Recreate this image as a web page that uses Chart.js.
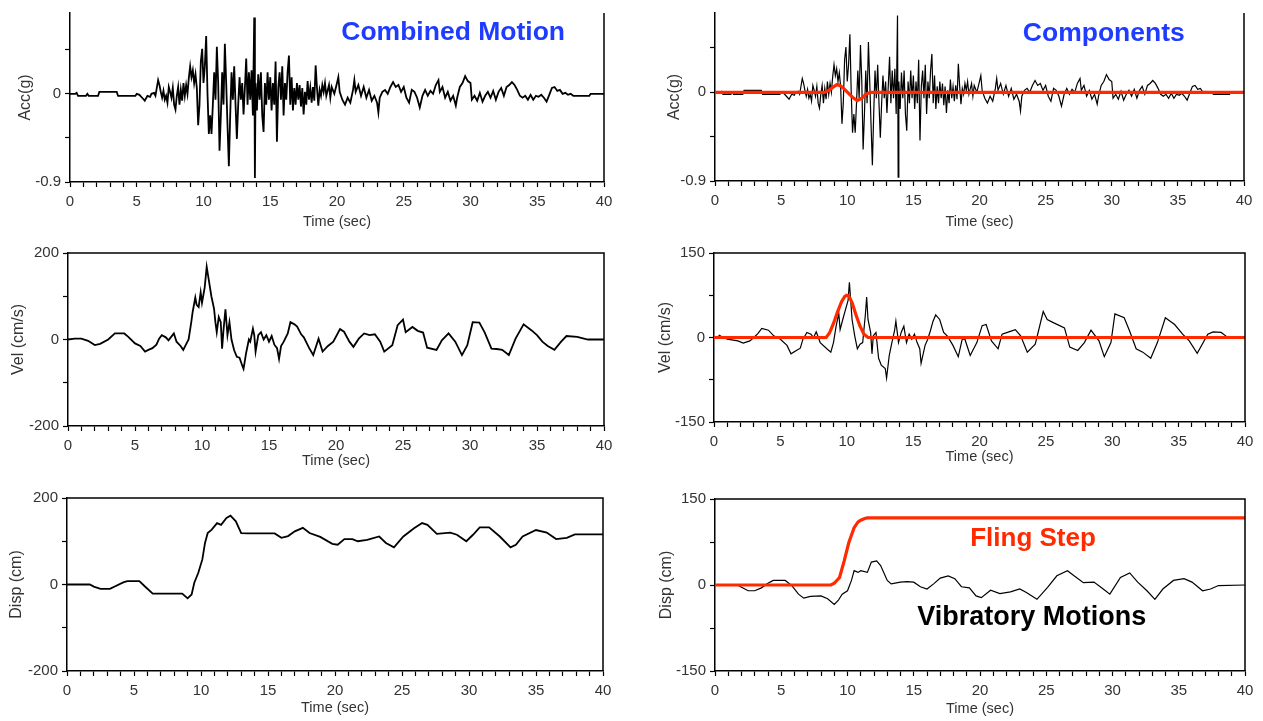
<!DOCTYPE html>
<html>
<head>
<meta charset="utf-8">
<script src="https://cdn.jsdelivr.net/npm/chart.js@4.4.1/dist/chart.umd.min.js"></script>
<style>
body { margin: 0; background: #fff; width: 1263px; height: 721px; overflow: hidden; position: relative; }
canvas { position: absolute; }
</style>
</head>
<body>
<canvas id="accLeft"></canvas>
<canvas id="velLeft"></canvas>
<canvas id="dispLeft"></canvas>
<canvas id="accRight"></canvas>
<canvas id="velRight"></canvas>
<canvas id="dispRight"></canvas>
<script>
// ----- DATA (time in sec, value) -----
const accTotal = [[0,0],[0.4,0],[0.5,0.01],[0.6,-0.02],[1.2,-0.02],[1.3,0],[1.4,-0.02],[2.1,-0.02],[2.2,0.02],[3.5,0.02],[3.6,-0.02],[4.9,-0.02],[5.0,0],[5.2,-0.01],[5.4,-0.04],[5.6,-0.07],[5.8,-0.02],[6.0,-0.03],[6.1,0],[6.3,0.01],[6.4,-0.02],[6.6,0.14],[6.7,0.09],[6.8,0.02],[6.9,-0.04],[7.0,0.03],[7.1,-0.06],[7.2,-0.02],[7.3,-0.09],[7.4,0.07],[7.5,0.02],[7.6,-0.04],[7.7,0.06],[7.8,-0.11],[7.9,-0.16],[8.0,-0.02],[8.1,0.07],[8.2,-0.11],[8.3,0.04],[8.4,-0.07],[8.5,0.11],[8.6,-0.02],[8.7,0.09],[8.8,0],[8.9,0.16],[9.0,0.28],[9.1,0.17],[9.2,0.24],[9.3,0.11],[9.4,0.2],[9.5,0.06],[9.6,-0.32],[9.7,-0.11],[9.8,0.33],[9.9,0.46],[10.0,0.11],[10.1,0.28],[10.2,0.59],[10.3,0],[10.4,-0.41],[10.5,-0.22],[10.6,-0.41],[10.7,-0.11],[10.8,0.22],[10.9,-0.06],[11.0,0.48],[11.1,0.11],[11.2,-0.58],[11.3,-0.22],[11.4,0.22],[11.5,-0.11],[11.6,0.51],[11.7,0.11],[11.8,-0.33],[11.9,-0.74],[12.0,-0.22],[12.1,0.22],[12.2,-0.06],[12.3,0.28],[12.4,-0.11],[12.5,-0.46],[12.6,-0.11],[12.7,0.17],[12.8,-0.06],[12.9,0.11],[13.0,-0.21],[13.1,0.06],[13.2,0.36],[13.3,-0.11],[13.4,0.22],[13.5,-0.06],[13.6,0.24],[13.7,-0.22],[13.8,0.78],[13.85,-0.86],[13.9,0.11],[14.0,-0.17],[14.1,0.2],[14.2,-0.06],[14.3,0.22],[14.4,-0.22],[14.5,-0.39],[14.6,0.11],[14.7,-0.11],[14.8,0.22],[14.9,-0.06],[15.0,0.17],[15.1,-0.17],[15.2,0.11],[15.3,-0.11],[15.4,0.33],[15.5,-0.49],[15.6,0.06],[15.7,0.22],[15.8,-0.06],[15.9,0.28],[16.0,-0.22],[16.1,0.11],[16.2,-0.06],[16.3,0.22],[16.4,0.39],[16.5,-0.11],[16.6,0.17],[16.7,-0.17],[16.8,0.06],[16.9,-0.11],[17.0,0.11],[17.1,-0.06],[17.2,0.09],[17.3,-0.13],[17.4,0.06],[17.5,-0.21],[17.6,0.02],[17.7,-0.11],[17.8,0.13],[17.9,-0.06],[18.0,0.06],[18.1,-0.09],[18.2,0.07],[18.3,-0.07],[18.4,0.29],[18.5,0.06],[18.6,-0.12],[18.7,0.04],[18.8,-0.02],[18.9,0.09],[19.0,0.02],[19.1,0.11],[19.2,-0.02],[19.4,0.09],[19.5,-0.04],[19.6,0.07],[19.8,0],[20.0,0.11],[20.1,0.17],[20.2,0.02],[20.4,-0.06],[20.6,-0.11],[20.8,-0.04],[21.0,-0.09],[21.2,0.04],[21.3,0.14],[21.4,0.02],[21.6,0.09],[21.8,-0.02],[22.0,0.07],[22.2,-0.04],[22.4,0.04],[22.6,-0.07],[22.8,-0.02],[23.0,-0.09],[23.1,-0.19],[23.2,-0.04],[23.4,0.02],[23.6,0.04],[23.8,0],[24.0,0.07],[24.2,0.12],[24.4,0.07],[24.6,0.09],[24.8,0.02],[25.0,0.07],[25.2,-0.04],[25.4,-0.09],[25.6,0.04],[25.8,0.02],[26.0,-0.04],[26.2,-0.14],[26.4,-0.02],[26.6,0.04],[26.8,-0.02],[27.0,0.03],[27.2,0],[27.4,0.09],[27.6,0.14],[27.7,0.02],[27.9,0.07],[28.1,-0.04],[28.3,0.02],[28.5,-0.07],[28.7,-0.02],[28.9,-0.12],[29.0,-0.04],[29.2,0.07],[29.4,0.11],[29.6,0.18],[29.8,0.13],[30.0,0.11],[30.1,-0.06],[30.3,-0.02],[30.5,-0.07],[30.7,0.01],[30.9,-0.08],[31.1,-0.02],[31.3,0.02],[31.5,-0.04],[31.7,0.03],[31.9,-0.06],[32.1,0.02],[32.3,0.06],[32.5,-0.02],[32.7,0.07],[32.9,0.09],[33.1,0.12],[33.3,0.09],[33.5,0.04],[33.7,-0.02],[33.9,-0.04],[34.1,-0.02],[34.3,-0.06],[34.5,-0.01],[34.7,-0.06],[34.9,-0.02],[35.1,-0.03],[35.3,-0.01],[35.5,-0.04],[35.7,-0.08],[35.9,-0.01],[36.1,0.06],[36.3,0.07],[36.5,0.03],[36.7,0.04],[36.9,0],[37.1,0.01],[37.3,-0.01],[37.5,0],[37.7,-0.02],[38.9,-0.02],[39.0,0],[40,0]];

const velTotal = [[0,0],[0.5,2],[1.0,2],[1.5,-3],[2.0,-13],[2.4,-10],[3.0,0],[3.5,14],[4.2,14],[4.5,6],[5.0,-9],[5.4,-15],[5.75,-28],[6.0,-24],[6.3,-20],[6.6,-12],[6.8,2],[7.0,10],[7.3,5],[7.5,-2],[7.7,6],[7.9,14],[8.1,-5],[8.4,-15],[8.6,-24],[8.8,-12],[9.0,0],[9.2,40],[9.3,63],[9.5,97],[9.6,80],[9.75,75],[9.9,109],[10.0,85],[10.2,120],[10.35,168],[10.5,139],[10.7,100],[10.9,71],[11.0,40],[11.1,17],[11.25,52],[11.4,40],[11.5,-21],[11.6,20],[11.75,70],[11.9,10],[12.05,40],[12.2,0],[12.4,-25],[12.6,-40],[12.8,-42],[13.0,-60],[13.1,-68],[13.3,-30],[13.5,0],[13.6,-5],[13.8,25],[13.9,10],[14.0,-28],[14.2,10],[14.4,17],[14.6,0],[14.8,10],[15.0,-5],[15.2,8],[15.4,-12],[15.6,-20],[15.75,-45],[15.9,-15],[16.1,-5],[16.4,14],[16.6,40],[16.9,35],[17.1,30],[17.4,12],[17.6,5],[18.0,-20],[18.3,-36],[18.7,2],[19.0,-28],[19.4,-15],[19.8,-5],[20.3,24],[20.6,18],[21.0,-5],[21.3,-17],[21.7,2],[22.1,14],[22.5,10],[22.9,12],[23.3,-5],[23.6,-28],[24.2,-13],[24.6,33],[25.0,46],[25.2,17],[25.7,29],[26.1,20],[26.5,16],[26.8,-19],[27.5,-24],[27.9,-2],[28.4,14],[28.9,-5],[29.4,-36],[29.8,-13],[30.2,40],[30.7,39],[31.1,16],[31.6,-21],[32.0,-22],[32.4,-24],[32.9,-36],[33.4,2],[34.0,35],[34.6,21],[35.0,10],[35.4,-5],[35.8,-15],[36.3,-24],[36.8,-5],[37.2,8],[38.0,6],[38.8,0],[40,0]];

const dispTotal = [[0,0],[1.7,0],[2.0,-5],[2.5,-10],[3.2,-10],[3.6,-4],[4.2,5],[4.5,8],[5.4,8],[5.8,-4],[6.4,-21],[8.6,-21],[9.0,-32],[9.3,-23],[9.5,4],[9.8,27],[10.1,58],[10.3,96],[10.5,119],[10.8,127],[11.2,142],[11.5,138],[11.9,154],[12.2,159],[12.6,146],[13.0,119],[13.5,118],[15.5,118],[16.0,108],[16.5,112],[17.0,123],[17.6,131],[18.1,119],[18.9,110],[19.8,94],[20.2,92],[20.7,105],[21.3,105],[21.7,100],[22.4,103],[23.3,111],[23.8,96],[24.4,86],[25.1,111],[25.9,130],[26.5,142],[26.9,138],[27.6,117],[28.6,120],[29.1,115],[29.8,100],[30.3,115],[30.8,132],[31.5,132],[32.3,111],[33.1,86],[33.5,92],[34.0,111],[35.0,126],[35.8,120],[36.5,105],[37.3,108],[37.9,116],[40,116]];

const accFling = [[0,0],[8.3,0],[8.6,0.02],[8.9,0.05],[9.25,0.08],[9.5,0.065],[9.8,0.03],[10.1,-0.01],[10.4,-0.05],[10.75,-0.085],[11.1,-0.06],[11.4,-0.02],[11.75,0],[40,0]];

const velVib = [[0,0],[0.3,0],[0.4,4],[0.7,0],[1.0,-3],[1.8,-6],[2.2,-10],[2.7,-6],[3.0,0],[3.3,7],[3.6,16],[4.1,13],[4.5,3],[5.0,-3],[5.5,-14],[5.8,-29],[6.2,-23],[6.5,-19],[6.7,-3],[7.0,9],[7.3,6],[7.5,0],[7.7,10],[8.0,-9],[8.5,-20],[8.8,-26],[9.0,-9],[9.2,20],[9.4,43],[9.5,14],[9.7,32],[9.9,49],[10.1,66],[10.2,98],[10.4,32],[10.6,3],[10.8,-20],[11.0,-12],[11.2,-9],[11.4,40],[11.5,72],[11.6,32],[11.8,9],[11.9,-29],[12.0,3],[12.2,9],[12.4,-37],[12.6,-49],[12.9,-55],[13.0,-72],[13.2,-32],[13.4,-9],[13.6,12],[13.7,29],[13.9,-9],[14.1,9],[14.3,20],[14.5,-9],[14.7,6],[14.9,-3],[15.1,6],[15.3,-9],[15.5,-20],[15.6,-46],[15.9,-14],[16.1,-3],[16.3,12],[16.5,29],[16.7,40],[17.0,32],[17.3,9],[17.6,2],[18.0,-14],[18.4,-34],[18.7,-3],[18.9,-3],[19.3,-32],[19.8,-9],[20.2,21],[20.5,23],[20.9,-6],[21.4,-20],[21.7,6],[22.1,9],[22.7,14],[23.1,3],[23.6,-26],[24.2,-12],[24.8,46],[25.1,32],[25.6,26],[26.4,17],[26.8,-17],[27.4,-23],[27.9,-9],[28.4,13],[29.0,-6],[29.4,-34],[29.9,-9],[30.2,42],[30.9,35],[31.3,12],[31.8,-20],[32.3,-26],[32.9,-37],[33.4,-9],[34.0,35],[34.7,23],[35.3,6],[35.8,-6],[36.4,-28],[37.2,6],[37.6,10],[38.2,9],[38.6,2]];

const velFling = [[0,0],[8.45,0],[8.7,8],[9.0,25],[9.3,45],[9.6,63],[9.85,73],[10.0,75],[10.15,74],[10.4,62],[10.7,40],[11.0,20],[11.3,6],[11.6,0],[40,0]];

const dispVib = [[0,0],[1.7,0],[2.0,-4],[2.5,-10],[3.0,-10],[3.5,-5],[4.0,3],[4.4,8],[5.3,8],[5.8,-1],[6.3,-16],[6.7,-23],[7.2,-20],[8.0,-19],[8.5,-24],[9.0,-34],[9.3,-27],[9.6,-16],[10.0,-10],[10.3,8],[10.5,25],[10.8,22],[11.0,25],[11.5,22],[11.8,40],[12.2,42],[12.5,34],[13.0,8],[13.3,2],[14.0,5],[14.5,6],[15.0,5],[15.5,-3],[16.0,-7],[16.5,2],[17.0,12],[17.6,16],[18.1,11],[18.6,-3],[19.2,-5],[19.7,-19],[20.1,-22],[20.8,-9],[21.5,-15],[22.3,-12],[23.0,-7],[23.5,-13],[24.3,-25],[25.1,-4],[25.8,16],[26.6,25],[27.1,16],[27.8,4],[28.6,5],[29.3,-7],[29.8,-16],[30.6,13],[31.3,21],[31.9,5],[32.6,-10],[33.2,-25],[33.8,-7],[34.6,8],[35.4,11],[36.0,5],[36.8,-10],[37.4,-7],[38.0,-1],[40,0]];

const dispFling = [[0,0],[8.75,0],[9.0,3],[9.4,13],[9.75,42],[10.1,74],[10.5,100],[10.8,110],[11.0,113],[11.3,116],[11.5,117],[40,117]];

// tick labels
const xLabels = [0, 5, 10, 15, 20, 25, 30, 35, 40];
const accTicks = [-0.9, -0.45, 0, 0.45];
const accLabels = [-0.9, 0];
const leftTicks = [-200, -100, 0, 100, 200];
const leftLabels = [-200, 0, 200];
const rightTicks = [-150, -75, 0, 75, 150];
const rightLabels = [-150, 0, 150];

const FONT = '"Liberation Sans", Arial, Helvetica, sans-serif';
const TXT = '#333';
const RED = '#ff2a00';
const BLUE = '#1e3cff';

// minor ticks every second
const xTicks = [];
for (let s = 0; s <= 40; s++) xTicks.push(s);

function pts(list) {
    return list.map(p => ({ x: p[0], y: p[1] }));
}

// right (and top) frame lines + text notes
const framePlugin = {
    id: 'frame',
    afterDatasetsDraw(chart, args, opts) {
        const { ctx, chartArea: a } = chart;
        ctx.save();
        ctx.strokeStyle = '#000';
        ctx.lineWidth = 1.5;
        ctx.beginPath();
        ctx.moveTo(a.right, a.bottom);
        ctx.lineTo(a.right, a.top);
        if (opts.top) ctx.lineTo(a.left, a.top);
        ctx.stroke();
        (opts.notes || []).forEach(n => {
            ctx.font = 'bold ' + n.size + 'px ' + FONT;
            ctx.fillStyle = n.color;
            ctx.textAlign = 'center';
            ctx.textBaseline = 'alphabetic';
            ctx.fillText(n.text, chart.scales.x.getPixelForValue(n.t), chart.scales.y.getPixelForValue(n.v));
        });
        ctx.restore();
    }
};

function line(data, color, width, order) {
    return {
        data: pts(data),
        borderColor: color,
        borderWidth: width,
        pointRadius: 0,
        tension: 0,
        fill: false,
        order: order
    };
}

function makePanel(id, box, area, p) {
    const cv = document.getElementById(id);
    cv.width = box.w;
    cv.height = box.h;
    cv.style.left = box.x + 'px';
    cv.style.top = box.y + 'px';

    const yWidth = area.l - box.x;
    const xHeight = box.y + box.h - area.b;
    const xTitleFont = 14.5;
    const yTitleFont = 16;

    new Chart(cv.getContext('2d'), {
        type: 'line',
        data: { datasets: p.datasets },
        options: {
            responsive: false,
            animation: false,
            events: [],
            layout: { padding: { top: area.t - box.y, right: box.x + box.w - area.r, left: 0, bottom: 0 } },
            plugins: {
                legend: { display: false },
                tooltip: { enabled: false },
                frame: { top: p.top, notes: p.notes || [] }
            },
            scales: {
                x: {
                    type: 'linear',
                    min: 0,
                    max: 40,
                    afterBuildTicks: s => { s.ticks = xTicks.map(v => ({ value: v })); },
                    afterFit: s => { s.height = xHeight; },
                    grid: { drawOnChartArea: false, color: '#000', tickLength: 5, tickWidth: 1.2 },
                    border: { color: '#000', width: 1.5 },
                    ticks: {
                        autoSkip: false,
                        maxRotation: 0,
                        padding: 6,
                        color: TXT,
                        font: { family: FONT, size: 15 },
                        callback: v => xLabels.includes(v) ? String(v) : ''
                    },
                    title: {
                        display: true,
                        text: 'Time (sec)',
                        color: TXT,
                        font: { family: FONT, size: xTitleFont },
                        padding: { top: 0, bottom: xHeight - p.xTitle - xTitleFont * 0.6 }
                    }
                },
                y: {
                    min: p.yMin,
                    max: p.yMax,
                    afterBuildTicks: s => { s.ticks = p.yTicks.map(v => ({ value: v })); },
                    afterFit: s => { s.width = yWidth; },
                    grid: { drawOnChartArea: false, color: '#000', tickLength: 5, tickWidth: 1.2 },
                    border: { color: '#000', width: 1.5 },
                    ticks: {
                        autoSkip: false,
                        padding: 4,
                        color: TXT,
                        font: { family: FONT, size: 15 },
                        callback: v => p.yLabels.includes(v) ? String(v) : ''
                    },
                    title: {
                        display: true,
                        text: p.yTitle,
                        color: TXT,
                        font: { family: FONT, size: yTitleFont },
                        padding: { top: p.yTitleX - yTitleFont * 0.6, bottom: 0 }
                    }
                }
            }
        },
        plugins: [framePlugin]
    });
}

// ----- LEFT COLUMN: combined motion -----
makePanel('accLeft', { x: 0, y: 0, w: 632, h: 240 }, { l: 70, t: 10, r: 604, b: 182 }, {
    yMin: -0.9, yMax: 0.825, yTicks: accTicks, yLabels: accLabels, yTitle: 'Acc(g)',
    yTitleX: 25.5, xTitle: 40, top: false,
    datasets: [line(accTotal, '#000', 1.8, 0)],
    notes: [{ text: 'Combined Motion', t: 28.7, v: 0.545, size: 26.5, color: BLUE }]
});

makePanel('velLeft', { x: 0, y: 240, w: 632, h: 240 }, { l: 68, t: 250, r: 604, b: 426 }, {
    yMin: -200, yMax: 200, yTicks: leftTicks, yLabels: leftLabels, yTitle: 'Vel (cm/s)',
    yTitleX: 18.5, xTitle: 35, top: true,
    datasets: [line(velTotal, '#000', 1.8, 0)]
});

makePanel('dispLeft', { x: 0, y: 480, w: 632, h: 241 }, { l: 67, t: 498, r: 603, b: 671 }, {
    yMin: -200, yMax: 200, yTicks: leftTicks, yLabels: leftLabels, yTitle: 'Disp (cm)',
    yTitleX: 16.7, xTitle: 37, top: true,
    datasets: [line(dispTotal, '#000', 1.8, 0)]
});

// ----- RIGHT COLUMN: components -----
makePanel('accRight', { x: 635, y: 0, w: 628, h: 240 }, { l: 715, t: 10, r: 1244, b: 181 }, {
    yMin: -0.9, yMax: 0.805, yTicks: accTicks, yLabels: accLabels, yTitle: 'Acc(g)',
    yTitleX: 39.5, xTitle: 41, top: false,
    datasets: [line(accFling, RED, 3.2, 0), line(accTotal, '#000', 1.2, 1)],
    notes: [{ text: 'Components', t: 29.4, v: 0.525, size: 26.5, color: BLUE }]
});

makePanel('velRight', { x: 635, y: 240, w: 628, h: 240 }, { l: 714, t: 248, r: 1245, b: 422 }, {
    yMin: -150, yMax: 150, yTicks: rightTicks, yLabels: rightLabels, yTitle: 'Vel (cm/s)',
    yTitleX: 30.5, xTitle: 35, top: true,
    datasets: [line(velFling, RED, 3.2, 0), line(velVib, '#000', 1.2, 1)]
});

makePanel('dispRight', { x: 635, y: 480, w: 628, h: 241 }, { l: 715, t: 499, r: 1245, b: 671 }, {
    yMin: -150, yMax: 150, yTicks: rightTicks, yLabels: rightLabels, yTitle: 'Disp (cm)',
    yTitleX: 31.7, xTitle: 38, top: true,
    datasets: [line(dispFling, RED, 3.2, 0), line(dispVib, '#000', 1.2, 1)],
    notes: [
        { text: 'Fling Step', t: 24.0, v: 68.4, size: 26, color: RED },
        { text: 'Vibratory Motions', t: 23.9, v: -70.2, size: 27, color: '#000' }
    ]
});
</script>
</body>
</html>
